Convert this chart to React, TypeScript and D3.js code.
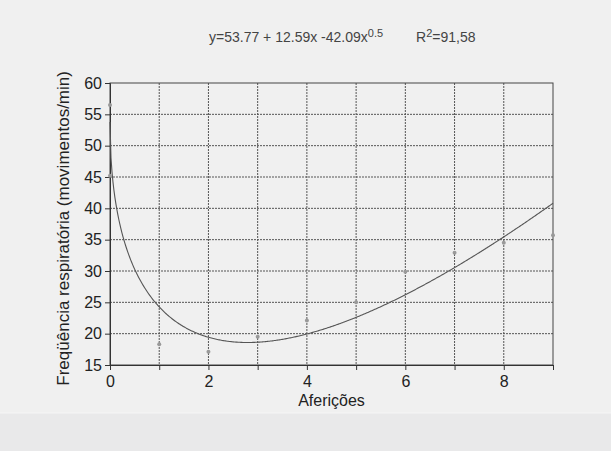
import React, { useEffect, useRef } from 'react';
import * as d3 from 'd3';

// measured points (afericao, frequencia)
const afericoes = [0, 0, 1, 2, 3, 4, 5, 6, 7, 8, 9];
const frequencia = [56.5, 45.2, 18.3, 17.1, 19.5, 22.1, 25.0, 29.9, 32.9, 34.5, 35.7];
// trend line y = a + b*x + c*x^0.5, as printed on the chart
const coef = [53.77, 12.59, -42.09];
const xTicks = [0, 1, 2, 3, 4, 5, 6, 7, 8, 9];
const xLabels = [0, 2, 4, 6, 8];
const yTicks = [15, 20, 25, 30, 35, 40, 45, 50, 55, 60];

const W = 611;
const H = 451;

export default function App() {
  const ref = useRef<SVGSVGElement>(null);

  useEffect(() => {
    const svg = d3.select(ref.current);
    svg.selectAll('*').remove();
    const font = 'Liberation Sans, Arial, sans-serif';

    // paper
    svg.append('rect').attr('width', W).attr('height', H).attr('fill', '#f0f0f0');
    svg.append('rect').attr('x', 0).attr('y', 413).attr('width', W).attr('height', H - 413).attr('fill', '#e9e9ea');
    svg.append('line').attr('x1', 0).attr('x2', W).attr('y1', 413).attr('y2', 413).attr('stroke', '#f6f6f6');

    const x = d3.scaleLinear().domain([0, 9]).range([110, 553]);
    const y = d3.scaleLinear().domain([15, 60]).range([365, 83]);

    // grid
    const g = svg.append('g');
    g.selectAll('.gx').data(xTicks.slice(1, -1)).enter().append('line')
      .attr('x1', d => x(d)).attr('x2', d => x(d))
      .attr('y1', y(60)).attr('y2', y(15))
      .attr('stroke', '#555').attr('stroke-dasharray', '2,1');
    g.selectAll('.gy').data(yTicks.slice(1, -1)).enter().append('line')
      .attr('x1', x(0)).attr('x2', x(9))
      .attr('y1', d => y(d)).attr('y2', d => y(d))
      .attr('stroke', '#555').attr('stroke-dasharray', '2,1');

    // frame
    g.append('rect').attr('x', x(0)).attr('y', y(60))
      .attr('width', x(9) - x(0)).attr('height', y(15) - y(60))
      .attr('fill', 'none').attr('stroke', '#444').attr('stroke-width', 1);

    // axes
    const xAxis = d3.axisBottom(x).tickValues(xTicks).tickSize(5)
      .tickFormat(d => (xLabels.includes(+d) ? String(d) : ''));
    const ax = svg.append('g').attr('transform', `translate(0,${y(15)})`).call(xAxis);
    ax.select('.domain').attr('stroke', '#333');
    ax.selectAll('line').attr('stroke', '#333');
    ax.selectAll('text').attr('font-family', font).attr('font-size', 16).attr('fill', '#222').attr('dy', '0.85em');

    const yAxis = d3.axisLeft(y).tickValues(yTicks).tickSize(5);
    const ay = svg.append('g').attr('transform', `translate(${x(0)},0)`).call(yAxis);
    ay.select('.domain').attr('stroke', '#333');
    ay.selectAll('line').attr('stroke', '#333');
    ay.selectAll('text').attr('font-family', font).attr('font-size', 16).attr('fill', '#222').attr('x', -8);

    // trend line
    const xs = d3.range(0, 9.0001, 0.02);
    const line = d3.line<number>()
      .x(d => x(d))
      .y(d => y(coef[0] + coef[1] * d + coef[2] * Math.sqrt(d)));
    svg.append('path').datum(xs).attr('d', line).attr('fill', 'none')
      .attr('stroke', '#555').attr('stroke-width', 1.1);

    // points
    svg.selectAll('.pt').data(afericoes).enter().append('circle')
      .attr('cx', d => x(d)).attr('cy', (d, i) => y(frequencia[i]))
      .attr('r', 2).attr('fill', '#999');

    // equation
    const t = svg.append('text').attr('x', 209).attr('y', 42)
      .attr('font-family', font).attr('font-size', 14).attr('fill', '#444');
    t.append('tspan').text(`y=${coef[0]} + ${coef[1]}x -${Math.abs(coef[2])}x`);
    t.append('tspan').attr('dy', -5).attr('font-size', 11).text('0.5');
    const r = svg.append('text').attr('x', 416).attr('y', 42)
      .attr('font-family', font).attr('font-size', 14).attr('fill', '#444');
    r.append('tspan').text('R');
    r.append('tspan').attr('dy', -5).attr('font-size', 11).text('2');
    r.append('tspan').attr('dy', 5).text('=91,58');

    svg.append('text').attr('x', x(4.5)).attr('y', 406).attr('text-anchor', 'middle')
      .attr('font-family', font).attr('font-size', 16).attr('fill', '#222').text('Aferições');
    svg.append('text').attr('transform', `translate(69,${y(36.8)}) rotate(-90)`)
      .attr('text-anchor', 'middle')
      .attr('font-family', font).attr('font-size', 17).attr('fill', '#222')
      .text('Freqüência respiratória (movimentos/min)');
  }, []);

  return (
    <svg ref={ref} width={W} height={H}
      style={{ position: 'absolute', left: 0, top: 0, display: 'block' }} />
  );
}
